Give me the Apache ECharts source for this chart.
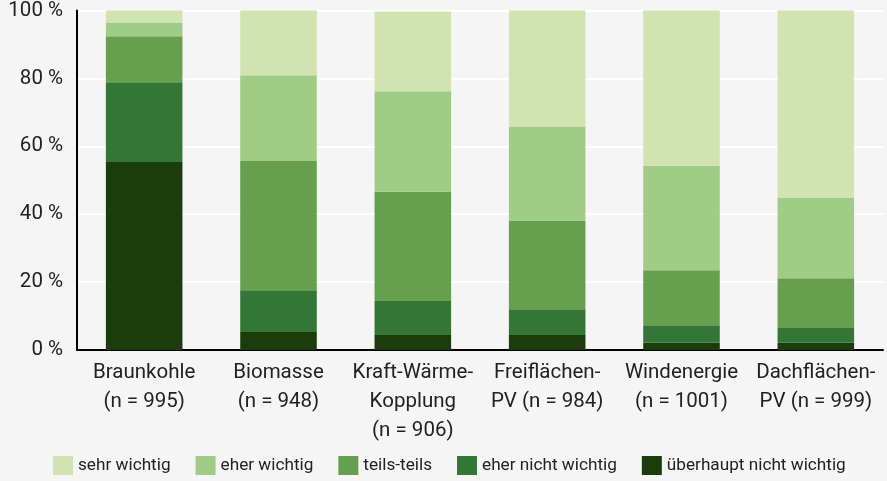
<!DOCTYPE html>
<html>
<head>
<meta charset="utf-8">
<title>Wichtigkeit</title>
<script src="https://cdn.jsdelivr.net/npm/echarts@6/dist/echarts.min.js"></script>
<style>
html, body { margin: 0; padding: 0; background: #f5f5f5; }
#chart { width: 887px; height: 481px; }
</style>
</head>
<body>
<div id="chart"></div>
<script>
var categories = ['Braunkohle\n(n = 995)', 'Biomasse\n(n = 948)', 'Kraft-Wärme-\nKopplung\n(n = 906)',
    'Freiflächen-\nPV (n = 984)', 'Windenergie\n(n = 1001)', 'Dachflächen-\nPV (n = 999)'];
// Anteile in %, von unten nach oben gestapelt
var ueberhauptNicht = [55.4, 5.3, 4.4, 4.4, 2.1, 2.1];
var eherNicht = [23.5, 12.3, 10.0, 7.6, 5.2, 4.6];
var teilsTeils = [13.5, 38.1, 32.2, 26.1, 16.2, 14.4];
var eherWichtig = [4.1, 25.2, 29.6, 27.6, 30.8, 23.8];
var sehrWichtig = [3.5, 19.1, 23.5, 34.3, 45.7, 55.1];
var yTicks = [0, 20, 40, 60, 80, 100];

var myChart = echarts.init(document.getElementById('chart'));

function bar(name, data, color) {
    return {
        name: name,
        type: 'bar',
        stack: 'gesamt',
        barWidth: '57%',
        itemStyle: { color: color },
        data: data
    };
}

var option = {
    backgroundColor: '#f5f5f5',
    animation: false,
    textStyle: { fontFamily: 'Roboto' },
    grid: { left: 77, right: 4, top: 9, bottom: 131 },
    legend: {
        bottom: 1,
        left: 48,
        itemWidth: 20,
        itemHeight: 19,
        itemGap: 25,
        icon: 'rect',
        textStyle: { fontSize: 17.2, color: '#222' },
        data: ['sehr wichtig', 'eher wichtig', 'teils-teils', 'eher nicht wichtig', 'überhaupt nicht wichtig']
    },
    xAxis: {
        type: 'category',
        data: categories,
        axisLine: { lineStyle: { color: '#000', width: 2 } },
        axisTick: { show: false },
        axisLabel: { fontSize: 20.5, color: '#222', lineHeight: 29, margin: 8, interval: 0 }
    },
    yAxis: {
        type: 'value',
        min: yTicks[0],
        max: yTicks[yTicks.length - 1],
        interval: 20,
        axisLine: { show: true, lineStyle: { color: '#000', width: 2 } },
        axisTick: { show: false },
        splitLine: { lineStyle: { color: '#ffffff', width: 2 } },
        axisLabel: { fontSize: 20.5, color: '#222', margin: 14, formatter: '{value} %' }
    },
    series: [
        bar('überhaupt nicht wichtig', ueberhauptNicht, '#1b3d0b'),
        bar('eher nicht wichtig', eherNicht, '#337636'),
        bar('teils-teils', teilsTeils, '#66a04e'),
        bar('eher wichtig', eherWichtig, '#a0cc86'),
        bar('sehr wichtig', sehrWichtig, '#d0e3b0')
    ]
};
myChart.setOption(option);
</script>
</body>
</html>
